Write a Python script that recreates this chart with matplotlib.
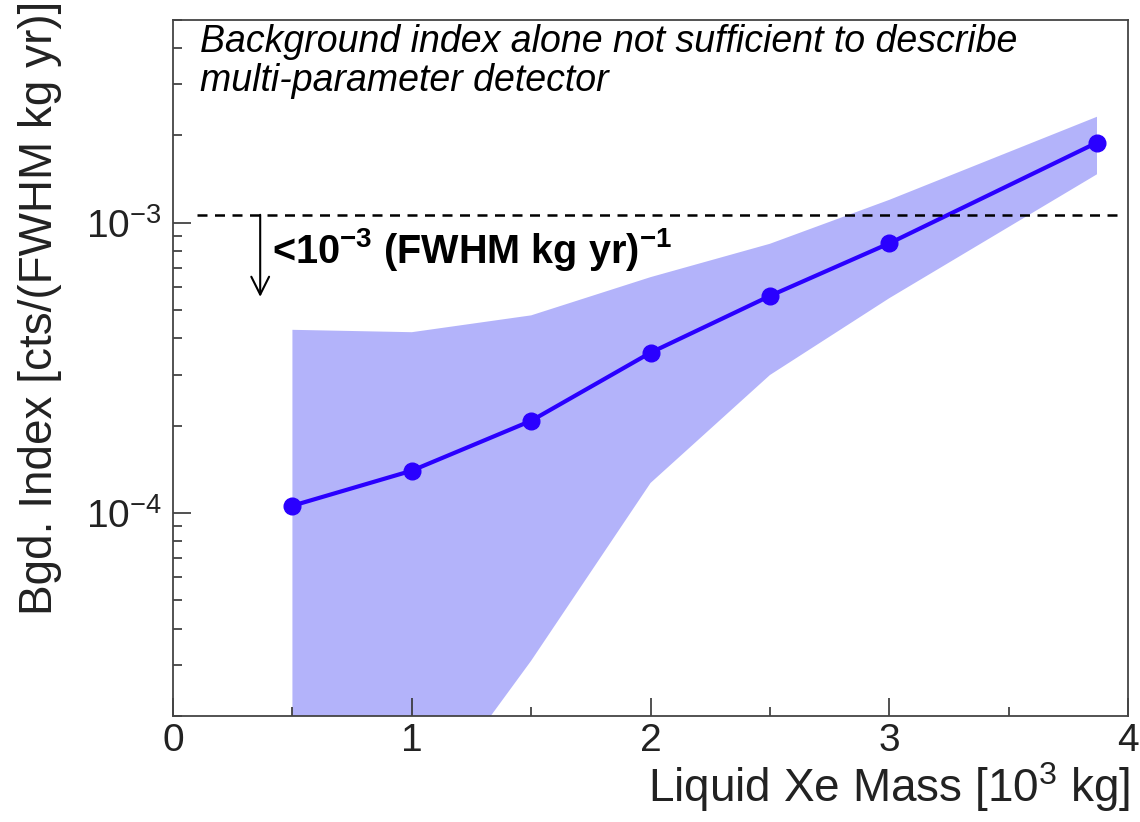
#!/usr/bin/env python3
"""
Background index vs liquid Xe mass
"""

import matplotlib
matplotlib.use("Agg")
import matplotlib.pyplot as plt
from matplotlib.ticker import LogLocator, NullFormatter, MultipleLocator

# data
mass = [0.5, 1.0, 1.5, 2.0, 2.5, 3.0, 3.87]
bgd_index = [1.06e-4, 1.40e-4, 2.08e-4, 3.57e-4, 5.6e-4, 8.5e-4, 1.89e-3]
band_upper = [4.28e-4, 4.2e-4, 4.8e-4, 6.5e-4, 8.47e-4, 1.2e-3, 2.32e-3]
band_lower = [1.0e-6, 8.5e-6, 3.1e-5, 1.27e-4, 2.99e-4, 5.5e-4, 1.47e-3]
goal = 1.066e-3

plt.rcParams['font.family'] = ['Liberation Sans', 'DejaVu Sans']
plt.rcParams['mathtext.fontset'] = 'custom'
plt.rcParams['mathtext.rm'] = 'Liberation Sans'
plt.rcParams['mathtext.bf'] = 'Liberation Sans:bold'
plt.rcParams['mathtext.it'] = 'Liberation Sans:italic'

fig = plt.figure(figsize=(11.4, 8.22), dpi=100)
ax = fig.add_axes([0.1518, 0.1290, 0.8377, 0.8467])

ax.fill_between(mass, band_lower, band_upper, color='#b3b3fa', linewidth=0)
ax.plot(mass, bgd_index, '-o', color='#2a00ff', linewidth=3, markersize=12)

ax.plot([0.1, 3.98], [goal, goal], color='black', linestyle=(0, (4, 3)), linewidth=1.8)
ax.annotate('', xy=(0.365, 5.56e-4), xytext=(0.365, goal),
            arrowprops=dict(arrowstyle='->', color='black', lw=1.5,
                            mutation_scale=32, shrinkA=0, shrinkB=0))
ax.text(0.415, 8.1e-4, r'<10$^{\mathbf{-3}}$ (FWHM kg yr)$^{\mathbf{-1}}$',
        fontsize=28.5, fontweight='bold', va='center', ha='left')

fig.text(200 / 1140, 1 - 24 / 822,
         'Background index alone not sufficient to describe\nmulti-parameter detector',
         fontsize=27, style='italic', va='top', ha='left', linespacing=1.1)

ax.set_yscale('log')
ax.set_xlim(0, 4)
ax.set_ylim(2e-5, 5e-3)

ax.xaxis.set_major_locator(MultipleLocator(1))
ax.xaxis.set_minor_locator(MultipleLocator(0.5))
ax.yaxis.set_major_locator(LogLocator(base=10))
ax.yaxis.set_minor_locator(LogLocator(base=10, subs=range(2, 10)))
ax.yaxis.set_minor_formatter(NullFormatter())

ax.tick_params(which='both', direction='in', top=False, right=False,
               width=1.2, color='#333333', labelsize=28, labelcolor='#222222')
ax.tick_params(which='major', length=13)
ax.tick_params(which='minor', length=6.5)
ax.tick_params(axis='x', which='major', pad=5)
ax.tick_params(axis='y', which='major', pad=8)

for spine in ax.spines.values():
    spine.set_color('#444444')
    spine.set_linewidth(1.3)

fig.text(1130 / 1140, 1 - 802 / 822, r'Liquid Xe Mass [10$^3$ kg]',
         fontsize=33, ha='right', va='baseline', color='#222222')
fig.text(40 / 1140, 1 - 615 / 822, 'Bgd. Index [cts/(FWHM kg yr)]',
         fontsize=33, rotation=90, ha='center', va='bottom', color='#222222')

plt.savefig('out.png', dpi=100)
